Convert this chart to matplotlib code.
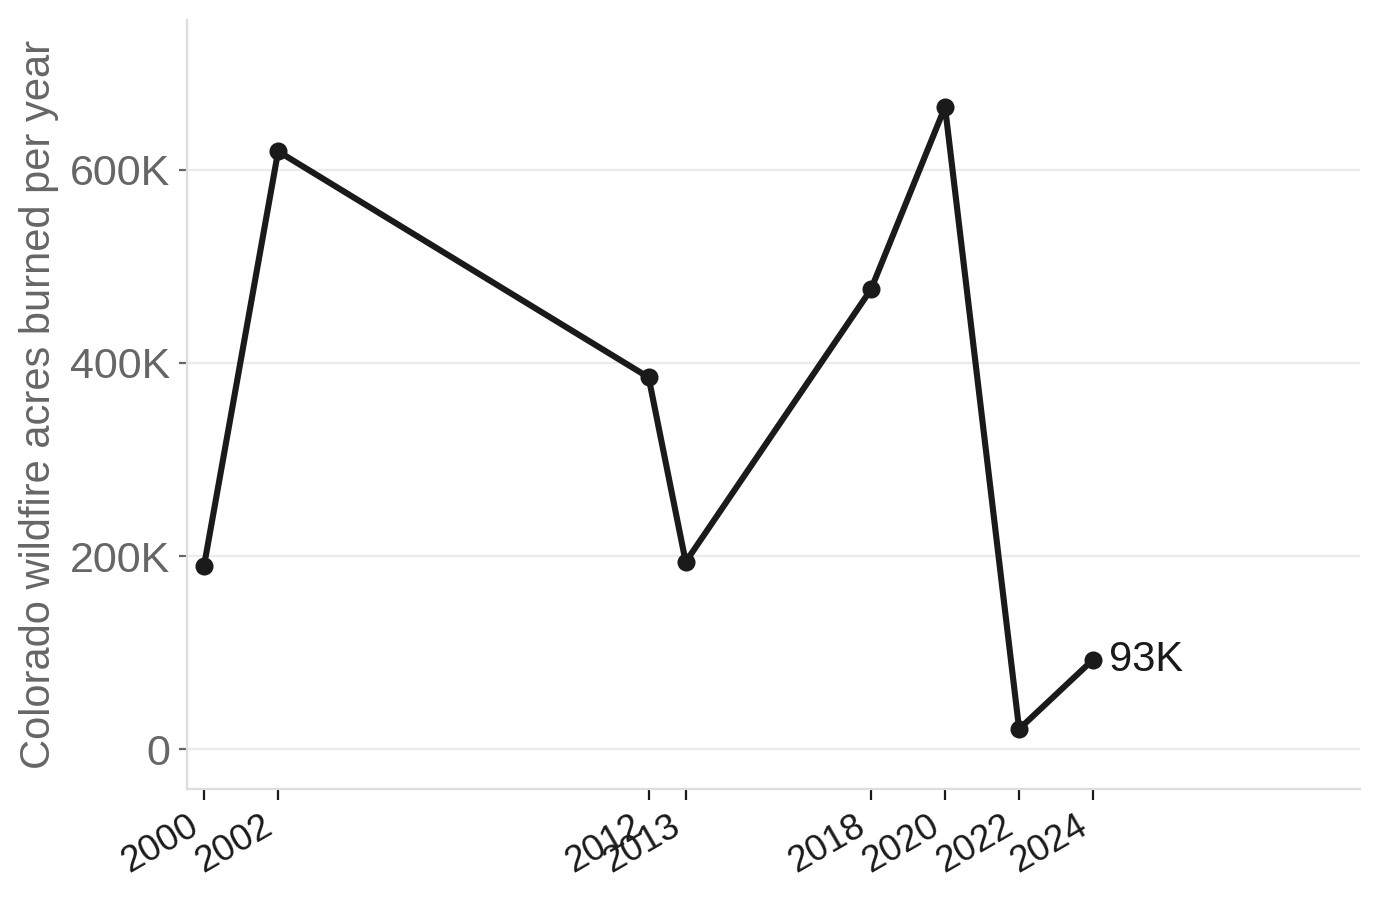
import matplotlib
matplotlib.use("Agg")
import matplotlib.pyplot as plt
from matplotlib.ticker import FuncFormatter

plt.rcParams['font.family'] = ['Liberation Sans', 'DejaVu Sans']

years = [2000, 2002, 2012, 2013, 2018, 2020, 2022, 2024]
acres = [190000, 619000, 385000, 194000, 476000, 665000, 21000, 93000]
last_label = "93K"
ylabel = "Colorado wildfire acres burned per year"

fig = plt.figure(figsize=(6.9, 4.495), dpi=200)
ax = fig.add_axes([0.1355, 0.1224, 0.85, 0.8554])

ax.plot(years, acres, color='#1a1a1a', lw=2.2, marker='o', ms=5.5, zorder=3)
ax.annotate(last_label, (years[-1], acres[-1]), xytext=(5.5, 0),
            textcoords='offset points', va='center', ha='left',
            fontsize=15, color='#1a1a1a')

ax.set_xlim(1999.54, 2031.2)
ax.set_ylim(-41000, 755000)
ax.set_yticks([0, 200000, 400000, 600000])
ax.yaxis.set_major_formatter(FuncFormatter(lambda v, p: '0' if v == 0 else f'{int(v/1000)}K'))
ax.set_xticks(years)
ax.set_xticklabels([str(y) for y in years], rotation=30, ha='right',
                   fontsize=13.3, color='#1a1a1a')

ax.grid(axis='y', color='#ebebeb', lw=0.8)
ax.set_axisbelow(True)
for s in ['top', 'right']:
    ax.spines[s].set_visible(False)
for s in ['left', 'bottom']:
    ax.spines[s].set_color('#dddddd')
    ax.spines[s].set_linewidth(0.8)

ax.tick_params(axis='y', colors='#666666', labelsize=15.5, length=3, width=0.8, pad=3)
ax.tick_params(axis='x', colors='#1a1a1a', length=4, width=0.8, pad=3)
ax.set_ylabel(ylabel, fontsize=15, color='#666666', labelpad=4)

fig.savefig('out.png', dpi=200)
